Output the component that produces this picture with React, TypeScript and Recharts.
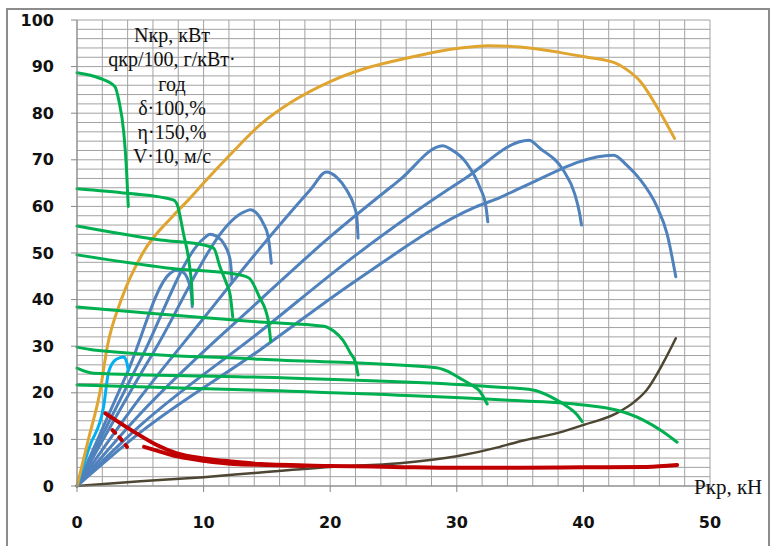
import { CartesianGrid, Line, LineChart, XAxis, YAxis } from "recharts";

type Pt = [number, number];

const X_TICKS = [0, 10, 20, 30, 40, 50];
const Y_TICKS = [0, 10, 20, 30, 40, 50, 60, 70, 80, 90, 100];
const X_GRID = [0, 2, 4, 6, 8, 10, 12, 14, 16, 18, 20, 22, 24, 26, 28, 30, 32, 34, 36, 38, 40, 42, 44, 46, 48, 50];
const Y_GRID = [0, 2, 4, 6, 8, 10, 12, 14, 16, 18, 20, 22, 24, 26, 28, 30, 32, 34, 36, 38, 40, 42, 44, 46, 48, 50, 52, 54, 56, 58, 60, 62, 64, 66, 68, 70, 72, 74, 76, 78, 80, 82, 84, 86, 88, 90, 92, 94, 96, 98, 100];

const LEGEND_LINES = ["Nкр, кВт", "qкр/100, г/кВт·", "год", "δ·100,%", "η·150,%", "V·10, м/с"];
const X_LABEL = "Ркр, кН";

// Nкр envelope
const ORANGE: Pt[] = [[0, 0], [0.9, 10], [1.8, 20], [2.4, 30], [3.5, 40], [5.2, 50], [7.6, 58], [8.8, 61.4], [10, 65], [12, 70.8], [14.5, 77.6], [17, 82.5], [20, 86.8], [23, 89.8], [26, 91.8], [30, 93.9], [32.5, 94.5], [35, 94.2], [38.2, 93], [40.1, 92.1], [42.5, 90.8], [43.4, 89.4], [44.5, 86.8], [45.8, 81.4], [47.2, 74.6]];

const GREEN_1: Pt[] = [[0, 88.7], [1.8, 87.5], [3, 85.7], [3.3, 82.8], [3.7, 75.7], [3.9, 68.5], [4.05, 60]];
const GREEN_2: Pt[] = [[0, 63.8], [4, 62.8], [7.6, 61.4], [7.9, 60.5], [8.4, 54.3], [8.9, 47], [9.08, 42], [9.12, 39]];
const GREEN_3: Pt[] = [[0, 55.8], [6.6, 52.8], [10, 51.7], [10.8, 51], [11.3, 47], [11.8, 43.5], [12.1, 41], [12.3, 36.3]];
const GREEN_4: Pt[] = [[0, 49.6], [7.1, 46.8], [12.9, 45.3], [13.6, 44.6], [14.4, 40.6], [15.1, 35.6], [15.3, 31]];
const GREEN_5: Pt[] = [[0, 38.4], [14.45, 35.2], [19.5, 34.3], [20.3, 33.2], [21, 31.3], [21.6, 28.5], [22, 26.5], [22.2, 23.8]];
const GREEN_6: Pt[] = [[0, 29.8], [1.3, 29.2], [14.45, 27.2], [28.4, 25.4], [29.3, 24.6], [30.2, 23.2], [31.2, 21.6], [31.8, 20.4], [32.4, 17.6]];
const GREEN_7: Pt[] = [[0, 25.3], [1.3, 24.2], [13.7, 23.4], [33.4, 21.2], [36, 20.6], [37.4, 19.2], [38.9, 16.7], [39.5, 15.3], [39.9, 13.8]];
const GREEN_8: Pt[] = [[0, 21.7], [13.7, 20.6], [33.4, 18.5], [40, 17.4], [42.6, 16.3], [44.7, 14.2], [46.2, 11.8], [47.4, 9.4]];

const BLUE_1: Pt[] = [[0, 0], [4, 24.5], [7.3, 45.5], [7.8, 46.3], [8.3, 46], [8.8, 44], [9.05, 41], [9.1, 38.5]];
const BLUE_2: Pt[] = [[0, 0], [5, 27], [10.1, 53.3], [10.5, 54], [11, 53.6], [11.6, 52], [12.1, 48.5], [12.25, 43.8]];
const BLUE_3: Pt[] = [[0, 0], [6, 28.5], [13.2, 58.8], [13.7, 59.3], [14.3, 58.2], [14.7, 56.4], [15.1, 53.5], [15.35, 47.8]];
const BLUE_4: Pt[] = [[0, 0], [5, 19], [10, 36], [14.45, 51], [18.5, 63.8], [19.7, 67.4], [20.5, 66.3], [21.3, 63.5], [21.9, 60], [22.1, 57.8], [22.2, 53.2]];
const BLUE_5: Pt[] = [[0, 0], [5, 15.5], [14.45, 39.9], [20, 53.5], [25.5, 65.7], [28.9, 73], [29.5, 72.3], [30.8, 69.2], [31.8, 64.2], [32.3, 60], [32.45, 56.7]];
const BLUE_6: Pt[] = [[0, 0], [5, 13], [14.45, 33.1], [22, 49.5], [30.5, 65.7], [35.7, 74.2], [36.6, 72.4], [38.4, 67.8], [39.3, 62.8], [39.7, 58.5], [39.85, 56]];
const BLUE_7: Pt[] = [[0, 0], [5, 11.5], [14.45, 29.2], [22, 44], [31.5, 59.9], [33.4, 61.9], [35, 63.9], [42.4, 71], [43.4, 68.9], [44.5, 65.7], [45.8, 60], [46.6, 54.2], [47.3, 44.9]];
const CYAN: Pt[] = [[0, 0], [1, 8.5], [2.1, 17], [2.5, 24.5], [3.1, 27.2], [3.7, 27.7], [3.95, 26.3], [4.05, 24.8]];

const RED_MAIN: Pt[] = [[2.24, 15.6], [4.7, 11.3], [6.3, 8.8], [7.9, 7], [10, 5.9], [12.4, 5.2], [14.5, 4.7], [20, 4.3], [25, 4.1], [30, 3.9], [35, 3.9], [40, 4], [45, 4.1], [47.4, 4.5]];
const RED_DOTS: Pt[] = [[2.8, 12], [3.3, 10.6], [3.95, 8.4]];
const RED_LOW: Pt[] = [[5.3, 8.4], [6.3, 7.6], [8, 6.3], [10, 5.4], [12.4, 4.7], [15, 4.5], [18, 4.3]];

const BROWN: Pt[] = [[0, 0], [5, 1], [10, 1.9], [14, 2.8], [20, 4.1], [25.5, 4.9], [30, 6.4], [33.4, 8.4], [35, 9.6], [38, 11.4], [40, 13.1], [42.6, 15.6], [44, 18], [45, 20.6], [46.3, 26.4], [47.3, 31.7]];

const toRows = (pts: Pt[]) => pts.map(([x, y]) => ({ x, y }));

const SERIES: { pts: Pt[]; color: string; width: number; dash?: string }[] = [
  { pts: BROWN, color: "#4d4633", width: 2.5 },
  { pts: BLUE_7, color: "#4f81bd", width: 3 },
  { pts: BLUE_6, color: "#4f81bd", width: 3 },
  { pts: BLUE_5, color: "#4f81bd", width: 3 },
  { pts: BLUE_4, color: "#4f81bd", width: 3 },
  { pts: BLUE_3, color: "#4f81bd", width: 3 },
  { pts: BLUE_2, color: "#4f81bd", width: 3 },
  { pts: BLUE_1, color: "#4f81bd", width: 3 },
  { pts: CYAN, color: "#00b0f0", width: 3 },
  { pts: ORANGE, color: "#e0a530", width: 3 },
  { pts: GREEN_1, color: "#00b050", width: 3 },
  { pts: GREEN_2, color: "#00b050", width: 3 },
  { pts: GREEN_3, color: "#00b050", width: 3 },
  { pts: GREEN_4, color: "#00b050", width: 3 },
  { pts: GREEN_5, color: "#00b050", width: 3 },
  { pts: GREEN_6, color: "#00b050", width: 3 },
  { pts: GREEN_7, color: "#00b050", width: 3 },
  { pts: GREEN_8, color: "#00b050", width: 3 },
  { pts: RED_MAIN, color: "#c00000", width: 4 },
  { pts: RED_LOW, color: "#c00000", width: 4 },
  { pts: RED_DOTS, color: "#c00000", width: 4, dash: "4 6" },
];

const TICK_SIZE = 6;
const X_MARGIN = 25;
const Y_MARGIN = 17;
const fontProps = { fontFamily: "DejaVu Sans", fontSize: 16, fontWeight: 700, fill: "#111" };

// only every 10 gets a label and a tick mark; the rest just feed the grid
const XTick = ({ x, y, payload }: any) => {
  if (!X_TICKS.includes(payload.value)) return <g />;
  const axisY = y - TICK_SIZE - X_MARGIN;
  return (
    <g>
      <line x1={x} x2={x} y1={axisY} y2={axisY + TICK_SIZE} stroke="#868686" />
      <text x={x} y={y} dy="0.71em" textAnchor="middle" {...fontProps}>
        {payload.value}
      </text>
    </g>
  );
};

const YTick = ({ x, y, payload }: any) => {
  if (!Y_TICKS.includes(payload.value)) return <g />;
  const axisX = x + TICK_SIZE + Y_MARGIN;
  return (
    <g>
      <line x1={axisX - TICK_SIZE} x2={axisX} y1={y} y2={y} stroke="#868686" />
      <text x={x} y={y} dy="0.355em" textAnchor="end" {...fontProps}>
        {payload.value}
      </text>
    </g>
  );
};

const serif = '"Liberation Serif", "Times New Roman", serif';

export default function App() {
  return (
    <div style={{ position: "absolute", left: 0, top: 0, width: 772, height: 546, overflow: "hidden", background: "#fff" }}>
      <div style={{ position: "absolute", left: 6, top: 8, width: 764, height: 600, border: "2px solid #8c8c8c", boxSizing: "border-box" }} />
      <div style={{ position: "absolute", left: 0, top: 0 }}>
        <LineChart width={772} height={546} margin={{ top: 20, right: 62, bottom: 0, left: 0 }}>
          <CartesianGrid stroke="#a2a2a2" />
          <XAxis
            type="number"
            dataKey="x"
            domain={[0, 50]}
            ticks={X_GRID}
            interval={0}
            height={60}
            tickSize={TICK_SIZE}
            tickMargin={X_MARGIN}
            tickLine={false}
            stroke="#868686"
            tick={<XTick />}
          />
          <YAxis
            type="number"
            dataKey="y"
            domain={[0, 100]}
            ticks={Y_GRID}
            interval={0}
            width={77}
            tickSize={TICK_SIZE}
            tickMargin={Y_MARGIN}
            tickLine={false}
            stroke="#868686"
            tick={<YTick />}
          />
          {SERIES.map((s, i) => (
            <Line
              key={i}
              data={toRows(s.pts)}
              dataKey="y"
              type="monotone"
              stroke={s.color}
              strokeWidth={s.width}
              strokeDasharray={s.dash}
              strokeLinecap="round"
              dot={false}
              activeDot={false}
              isAnimationActive={false}
            />
          ))}
        </LineChart>
      </div>
      <div style={{ position: "absolute", left: 92, top: 23, width: 160, textAlign: "center", fontFamily: serif, fontSize: 20, lineHeight: "24.3px", color: "#111" }}>
        {LEGEND_LINES.map((t) => (
          <div key={t}>{t}</div>
        ))}
      </div>
      <div style={{ position: "absolute", left: 694, top: 477, fontFamily: serif, fontSize: 21, lineHeight: "21px", color: "#111", whiteSpace: "nowrap" }}>
        {X_LABEL}
      </div>
    </div>
  );
}
